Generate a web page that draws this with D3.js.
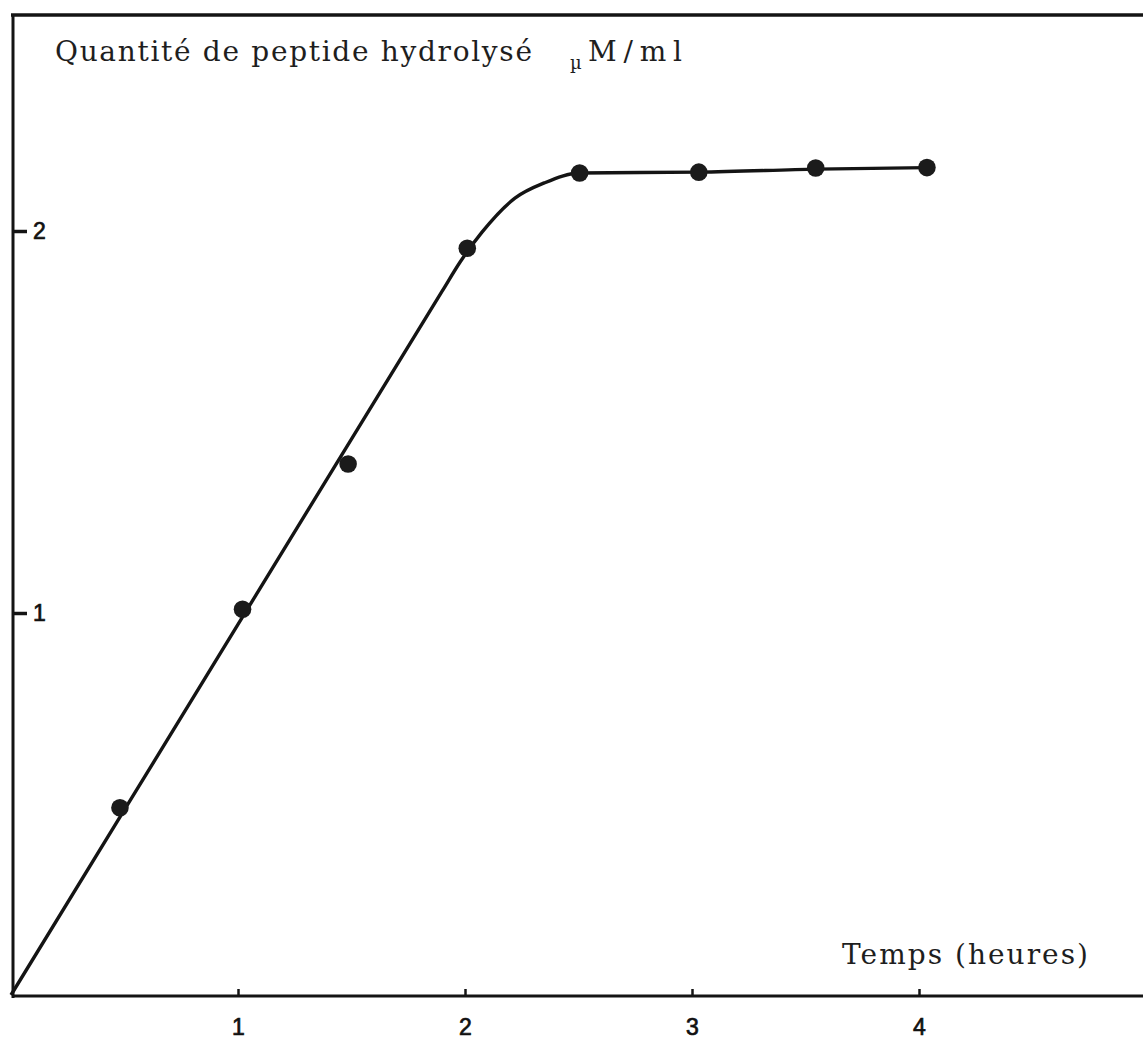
<!DOCTYPE html>
<html>
<head>
<meta charset="utf-8">
<script src="https://cdn.jsdelivr.net/npm/d3@7"></script>
<style>
  html, body { margin: 0; padding: 0; background: #fff; }
  svg { display: block; }
  .serif { font-family: "DejaVu Serif", serif; fill: #1e1e1e; }
</style>
</head>
<body>
<svg id="chart" width="1143" height="1041"></svg>
<script>
// Measured points: time (hours) and amount of hydrolysed peptide (µM/ml)
const hours   = [0.48, 1.02, 1.485, 2.01, 2.505, 3.03, 3.545, 4.035];
const peptide = [0.49, 1.01, 1.39, 1.955, 2.152, 2.154, 2.165, 2.166];

// Hand-drawn fitted curve: linear rise, then plateau
const fitHours  = [0, 1.0, 1.9, 1.98, 2.075, 2.22, 2.35, 2.507, 3.03, 3.55, 4.035];
const fitValues = [0, 0.97, 1.843, 1.92, 1.997, 2.086, 2.126, 2.152, 2.154, 2.162, 2.166];

// Axis ticks
const xTicks = [1, 2, 3, 4];
const yTicks = [1, 2];

const svg = d3.select("#chart");
const ink = "#141414";

const x = d3.scaleLinear().domain([0, 4]).range([11, 919]);
const y = d3.scaleLinear().domain([0, 2]).range([995, 231]);

// Frame: top rule, left axis, bottom axis
svg.append("line").attr("x1", 11).attr("x2", 1143).attr("y1", 15).attr("y2", 15)
  .attr("stroke", ink).attr("stroke-width", 3.5);
svg.append("line").attr("x1", 13).attr("x2", 13).attr("y1", 14).attr("y2", 998)
  .attr("stroke", ink).attr("stroke-width", 3);
svg.append("line").attr("x1", 12).attr("x2", 1143).attr("y1", 996).attr("y2", 996)
  .attr("stroke", ink).attr("stroke-width", 3);

function styleTickText(sel) {
  sel.style("font-family", "'Liberation Sans', Arial, sans-serif")
    .style("font-size", "23px")
    .attr("fill", "#111").attr("stroke", "#111").attr("stroke-width", 0.7);
}

// Y axis ticks and labels
const yAxis = svg.append("g").attr("transform", "translate(13,0)")
  .call(d3.axisRight(y).tickValues(yTicks).tickFormat(d3.format("d")).tickSize(14).tickPadding(6));
yAxis.select(".domain").remove();
yAxis.selectAll(".tick line").attr("stroke", ink).attr("stroke-width", 3.5);
yAxis.selectAll(".tick text").attr("dy", "0.34em").call(styleTickText);

// X axis ticks (small upward marks) and labels below
const xAxis = svg.append("g").attr("transform", "translate(0,996)")
  .call(d3.axisBottom(x).tickValues(xTicks).tickFormat(d3.format("d")).tickSize(-7).tickPadding(23));
xAxis.select(".domain").remove();
xAxis.selectAll(".tick line").attr("stroke", ink).attr("stroke-width", 2.5);
xAxis.selectAll(".tick text").call(styleTickText);

// Fitted curve
const line = d3.line().x(d => x(d[0])).y(d => y(d[1])).curve(d3.curveMonotoneX);
svg.append("path")
  .datum(fitHours.map((h, i) => [h, fitValues[i]]))
  .attr("d", line)
  .attr("fill", "none").attr("stroke", ink).attr("stroke-width", 3.4)
  .attr("stroke-linejoin", "round");

// Data points
svg.selectAll("circle.pt")
  .data(hours.map((h, i) => [h, peptide[i]]))
  .join("circle").attr("class", "pt")
  .attr("cx", d => x(d[0])).attr("cy", d => y(d[1]))
  .attr("r", 8.8).attr("fill", "#1b1b1b");

// Axis titles
svg.append("text").attr("class", "serif")
  .attr("x", 55).attr("y", 61).style("font-size", "28px")
  .attr("textLength", 477).attr("lengthAdjust", "spacing")
  .text("Quantité de peptide hydrolysé");
svg.append("text").attr("class", "serif")
  .attr("x", 570).attr("y", 69).style("font-size", "18px").text("µ");
svg.append("text").attr("class", "serif")
  .attr("x", 588).attr("y", 61).style("font-size", "28px")
  .attr("textLength", 94).attr("lengthAdjust", "spacing")
  .text("M/ml");
svg.append("text").attr("class", "serif")
  .attr("x", 842).attr("y", 964).style("font-size", "28px")
  .attr("textLength", 246).attr("lengthAdjust", "spacing")
  .text("Temps (heures)");
</script>
</body>
</html>
